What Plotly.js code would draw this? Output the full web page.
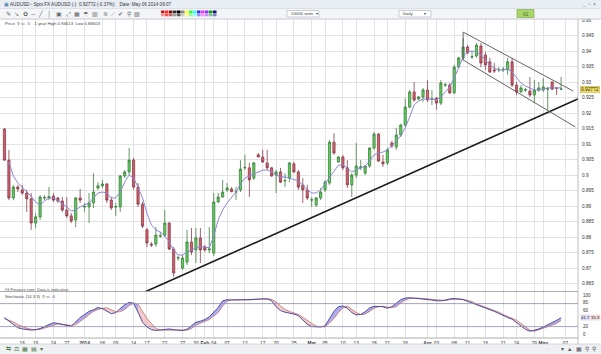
<!DOCTYPE html>
<html><head><meta charset="utf-8">
<script src="https://cdn.plot.ly/plotly-3.0.1.min.js"></script>
<style>html,body{margin:0;padding:0;background:#fff;}#chart{width:601px;height:354px;}</style>
</head><body><div id="chart"></div>
<script>
// ---------- data ----------
const dates = [
'2013-12-11','2013-12-12','2013-12-13','2013-12-15','2013-12-16','2013-12-17','2013-12-18','2013-12-19','2013-12-20','2013-12-22',
'2013-12-23','2013-12-24','2013-12-25','2013-12-26','2013-12-27','2013-12-29','2013-12-30','2013-12-31','2014-01-01','2014-01-02',
'2014-01-03','2014-01-05','2014-01-06','2014-01-07','2014-01-08','2014-01-09','2014-01-10','2014-01-12','2014-01-13','2014-01-14',
'2014-01-15','2014-01-16','2014-01-17','2014-01-19','2014-01-20','2014-01-21','2014-01-22','2014-01-23','2014-01-24','2014-01-26',
'2014-01-27','2014-01-28','2014-01-29','2014-01-30','2014-01-31','2014-02-02','2014-02-03','2014-02-04','2014-02-05','2014-02-06',
'2014-02-07','2014-02-09','2014-02-10','2014-02-11','2014-02-12','2014-02-13','2014-02-14','2014-02-16','2014-02-17','2014-02-18',
'2014-02-19','2014-02-20','2014-02-21','2014-02-23','2014-02-24','2014-02-25','2014-02-26','2014-02-27','2014-02-28','2014-03-02',
'2014-03-03','2014-03-04','2014-03-05','2014-03-06','2014-03-07','2014-03-09','2014-03-10','2014-03-11','2014-03-12','2014-03-13',
'2014-03-14','2014-03-16','2014-03-17','2014-03-18','2014-03-19','2014-03-20','2014-03-21','2014-03-23','2014-03-24','2014-03-25',
'2014-03-26','2014-03-27','2014-03-28','2014-03-30','2014-03-31','2014-04-01','2014-04-02','2014-04-03','2014-04-04','2014-04-06',
'2014-04-07','2014-04-08','2014-04-09','2014-04-10','2014-04-11','2014-04-13','2014-04-14','2014-04-15','2014-04-16','2014-04-17',
'2014-04-18','2014-04-20','2014-04-21','2014-04-22','2014-04-23','2014-04-24','2014-04-25','2014-04-27','2014-04-28','2014-04-29',
'2014-04-30','2014-05-01','2014-05-02','2014-05-04','2014-05-05','2014-05-06'];

const openP = [
.9148,.9048,.8926,.8961,.8952,.8942,.8923,.8845,.8865,.8926,
.8926,.8932,.8926,.8916,.8887,.8868,.8855,.8926,.8897,.8897,
.8910,.8958,.8965,.8971,.8919,.8897,.8897,.8997,.9010,.9048,
.8961,.8906,.8823,.8777,.8777,.8803,.8806,.8845,.8761,.8732,
.8700,.8719,.8784,.8758,.8797,.8768,.8758,.8748,.8913,.8929,
.8952,.8955,.8945,.8952,.9023,.9023,.8990,.9065,.9058,.9039,
.9023,.9000,.9010,.8981,.8990,.9036,.9010,.8968,.8952,.8919,
.8903,.8926,.8952,.8974,.9106,.9042,.9058,.9023,.8968,.9000,
.9023,.9006,.9029,.9087,.9132,.9042,.9039,.9103,.9090,.9129,
.9161,.9219,.9268,.9245,.9252,.9274,.9245,.9248,.9232,.9290,
.9290,.9265,.9348,.9378,.9413,.9381,.9384,.9416,.9387,.9365,
.9339,.9339,.9339,.9339,.9365,.9290,.9268,.9274,.9271,.9258,
.9274,.9274,.9277,.9300,.9281,.9277];

const highP = [
.9152,.9081,.8968,.8968,.8968,.8952,.8942,.8877,.8935,.8935,
.8961,.8942,.8929,.8929,.8929,.8877,.8929,.8955,.8910,.8942,
.9006,.8977,.8984,.8974,.8929,.8910,.9000,.9016,.9087,.9055,
.8974,.8913,.8829,.8784,.8832,.8816,.8887,.8848,.8768,.8739,
.8742,.8823,.8829,.8829,.8829,.8774,.8832,.8942,.8942,.8984,
.8974,.8961,.8961,.9048,.9065,.9039,.9042,.9071,.9081,.9081,
.9026,.9016,.9023,.9006,.9042,.9042,.9016,.8990,.8968,.8929,
.8929,.8958,.8984,.9113,.9135,.9061,.9065,.9048,.9006,.9103,
.9048,.9032,.9090,.9139,.9135,.9065,.9087,.9110,.9152,.9165,
.9248,.9274,.9300,.9255,.9281,.9306,.9274,.9252,.9306,.9297,
.9297,.9355,.9381,.9442,.9419,.9397,.9426,.9426,.9397,.9378,
.9361,.9348,.9348,.9378,.9378,.9300,.9290,.9281,.9316,.9306,
.9300,.9313,.9284,.9303,.9284,.9316];

const lowP = [
.9045,.8919,.8919,.8945,.8935,.8881,.8823,.8829,.8855,.8919,
.8919,.8913,.8910,.8881,.8861,.8845,.8832,.8910,.8881,.8845,
.8894,.8952,.8958,.8910,.8887,.8868,.8881,.8990,.9000,.8952,
.8897,.8829,.8768,.8768,.8768,.8797,.8800,.8758,.8671,.8723,
.8694,.8710,.8742,.8716,.8716,.8752,.8748,.8739,.8910,.8926,
.8945,.8945,.8919,.8945,.9016,.8929,.8984,.9058,.9039,.9016,
.8994,.8942,.8974,.8961,.8977,.9006,.8952,.8910,.8919,.8897,
.8897,.8919,.8945,.8968,.9065,.9039,.9016,.8958,.8929,.8990,
.9016,.9000,.9023,.9081,.9042,.9026,.9032,.9087,.9081,.9123,
.9155,.9216,.9236,.9242,.9236,.9236,.9226,.9210,.9226,.9284,
.9261,.9261,.9345,.9371,.9390,.9374,.9378,.9348,.9339,.9329,
.9329,.9332,.9332,.9323,.9284,.9258,.9265,.9268,.9252,.9232,
.9268,.9268,.9210,.9274,.9258,.9274];

const closeP = [
.9048,.8926,.8961,.8955,.8942,.8923,.8845,.8865,.8929,.8927,
.8930,.8919,.8916,.8887,.8868,.8852,.8926,.8919,.8898,.8910,
.8945,.8965,.8971,.8919,.8894,.8898,.8997,.9010,.9048,.8961,
.8906,.8835,.8781,.8774,.8806,.8804,.8845,.8761,.8684,.8733,
.8732,.8784,.8752,.8797,.8758,.8758,.8761,.8913,.8929,.8945,
.8958,.8946,.8946,.9019,.9024,.8984,.9039,.9058,.9042,.9023,
.8997,.9010,.8977,.8982,.9039,.9010,.8961,.8952,.8926,.8920,
.8926,.8945,.8977,.9106,.9071,.9058,.9023,.8968,.9000,.9029,
.9026,.9029,.9087,.9132,.9045,.9036,.9081,.9094,.9129,.9161,
.9219,.9268,.9242,.9252,.9274,.9242,.9246,.9232,.9297,.9291,
.9265,.9348,.9378,.9413,.9394,.9382,.9419,.9361,.9355,.9332,
.9336,.9340,.9341,.9365,.9290,.9268,.9281,.9275,.9258,.9274,
.9281,.9284,.9278,.9277,.9280,.92772];

// moving average line (from the 2nd candle on)
const maLine = [
.9042,.8997,.8974,.8961,.8948,.8932,.8913,.8903,.8916,.8926,
.8926,.8919,.8906,.8897,.8884,.8887,.8897,.8903,.8910,.8926,
.8942,.8945,.8942,.8926,.8926,.8945,.8977,.9000,.8990,.8961,
.8926,.8877,.8839,.8823,.8816,.8803,.8784,.8758,.8742,.8742,
.8752,.8758,.8765,.8768,.8768,.8765,.8803,.8855,.8887,.8910,
.8929,.8945,.8971,.8990,.8997,.9003,.9010,.9016,.9016,.9010,
.9000,.8994,.8994,.8990,.8987,.8981,.8968,.8952,.8942,.8942,
.8952,.8971,.8994,.9013,.9032,.9032,.9023,.9010,.9016,.9023,
.9029,.9045,.9065,.9071,.9074,.9081,.9094,.9110,.9126,.9152,
.9187,.9226,.9239,.9245,.9245,.9245,.9242,.9252,.9268,.9284,
.9313,.9348,.9381,.9397,.9400,.9397,.9387,.9371,.9355,.9345,
.9339,.9339,.9342,.9332,.9316,.9297,.9287,.9281,.9274,.9274,
.9277,.9281,.9281,.9281,.9281];

// stochastic (14,3,3) lines
const stochK = [
42,33,26,16,13,11,10,11,14,19,
25,29,27,24,22,20,32,42,50,58,
62,68,65,59,52,55,66,75,81,79,
56,30,18,11,9,10,11,13,11,10,
9,12,22,30,33,37,44,55,68,85,
88,87,87,87,87,88,89,90,90,90,
85,70,60,56,54,51,47,35,25,19,
18,18,21,38,58,70,72,66,55,49,
50,57,67,71,71,70,66,70,79,88,
92,93,92,91,89,88,87,85,85,87,
90,91,90,88,84,80,75,71,67,63,
58,53,47,42,38,30,20,12,7,10,
13,18,23,28,35,41.7];
const stochD = [
39,35,31,24,19,15,12,11,12,15,
19,22,26,25,24,22,24,33,41,50,
58,63,66,67,61,57,57,63,73,79,
76,58,40,27,14,10,10,11,11,11,
10,10,14,23,28,32,37,46,55,72,
84,88,88,87,87,87,88,89,90,90,
89,82,72,63,58,54,50,43,34,27,
20,19,18,28,40,55,67,71,63,55,
50,51,58,66,70,71,69,68,70,80,
87,91,92,92,91,90,89,87,86,86,
88,89,90,89,86,83,77,73,70,65,
61,56,50,45,41,35,27,19,10,7,
11,14,18,22,27,35];

// drawn lines (support trendline and falling channel)
const trendX = ['2014-01-16 12:00','2014-05-11'];
const trendY = [0.86226, 0.9253];
const chanUpperX = ['2014-04-10','2014-05-08 17:00'];
const chanUpperY = [0.9461, 0.9271];
const chanLowerX = ['2014-04-10','2014-05-09 05:00'];
const chanLowerY = [0.9371, 0.9155];
const chanEdgeX = ['2014-04-10','2014-04-10'];
const chanEdgeY = [0.9461, 0.9371];

// axis ticks
const tickDates = ['2013-12-16','2013-12-19','2013-12-24','2013-12-27','2014-01-01','2014-01-06','2014-01-09','2014-01-14','2014-01-17','2014-01-22','2014-01-27','2014-01-30','2014-02-02','2014-02-04','2014-02-07','2014-02-12','2014-02-17','2014-02-20','2014-02-25','2014-03-02','2014-03-05','2014-03-10','2014-03-13','2014-03-18','2014-03-21','2014-03-26','2014-04-01','2014-04-03','2014-04-08','2014-04-11','2014-04-16','2014-04-21','2014-04-24','2014-04-29','2014-05-01','2014-05-07'];
const tickText = ['16','19','24','27','<b>2014</b>','06','09','14','17','22','27','30','<b>Feb</b>','04','07','12','17','20','25','<b>Mar</b>','05','10','13','18','21','26','<b>Apr</b>','03','08','11','16','21','24','29','<b>May</b>','07'];
const priceTicks = [0.865,0.87,0.875,0.88,0.885,0.89,0.895,0.9,0.905,0.91,0.915,0.92,0.925,0.93,0.935,0.94,0.945,0.95];
const priceTickText = ['0.865','0.87','0.875','0.88','0.885','0.89','0.895','0.9','0.905','0.91','0.915','0.92','0.925','0.93','0.935','0.94','0.945','0.95'];
const stochTicks = [0,20,60,80,100];
const lastPrice = 0.92772;

[openP,highP,lowP,closeP,stochK,stochD].forEach((a,i)=>{ if(a.length!==dates.length) throw new Error('len '+i+' '+a.length); });
if (maLine.length!==dates.length-1) throw new Error('ma len '+maLine.length);

// ---------- geometry helpers (pixels -> paper) ----------
const W=601, H=354;
const px = x => x/W, py = y => 1 - y/H;
const priceAt = y => 0.95645 - y/3100;      // main panel scale
const stochAt = y => (334 - y)/0.39;          // lower panel scale
const FONT = 'Liberation Sans, Arial, sans-serif';
const GRID = '#e3e3e3';

// ---------- traces ----------
const traces = [];
traces.push({type:'candlestick', x:dates, open:openP, high:highP, low:lowP, close:closeP,
  xaxis:'x', yaxis:'y', whiskerwidth:0,
  increasing:{line:{color:'#3e7f3e', width:0.8}, fillcolor:'#5fd05f'},
  decreasing:{line:{color:'#8a3c46', width:0.8}, fillcolor:'#d0606e'},
  hoverinfo:'skip'});
traces.push({type:'scatter', mode:'lines', x:dates.slice(1), y:maLine, yaxis:'y',
  line:{color:'#8c86d8', width:1}, hoverinfo:'skip'});
traces.push({type:'scatter', mode:'lines', x:trendX, y:trendY, yaxis:'y', line:{color:'#1a1a1a', width:1.6}, hoverinfo:'skip'});
[[chanUpperX,chanUpperY],[chanLowerX,chanLowerY],[chanEdgeX,chanEdgeY]].forEach(([xx,yy])=>{
  traces.push({type:'scatter', mode:'lines', x:xx, y:yy, yaxis:'y', line:{color:'#555', width:0.9}, hoverinfo:'skip'});
});

// stochastic fills between %K and %D (blue when %K above, pink when below)
(function(){
  const n = stochK.length; let i = 0;
  while (i < n-1) {
    const up = stochK[i] >= stochD[i];
    let j = i;
    while (j < n-1 && ((stochK[j+1] >= stochD[j+1]) === up)) j++;
    const e = Math.min(j+1, n-1);
    const xs = dates.slice(i, e+1);
    traces.push({type:'scatter', mode:'lines', x: xs.concat(xs.slice().reverse()),
      y: stochK.slice(i,e+1).concat(stochD.slice(i,e+1).reverse()),
      yaxis:'y2', fill:'toself', fillcolor: up ? 'rgba(110,110,225,0.55)' : 'rgba(232,160,160,0.55)',
      line:{width:0}, hoverinfo:'skip'});
    i = j+1;
  }
})();
traces.push({type:'scatter', mode:'lines', x:dates, y:stochD, yaxis:'y2', line:{color:'#c87878', width:0.9}, hoverinfo:'skip'});
traces.push({type:'scatter', mode:'lines', x:dates, y:stochK, yaxis:'y2', line:{color:'#3c3c9c', width:0.9}, hoverinfo:'skip'});

// ---------- decorations ----------
const shapes = [];
const rect = (x0,y0,x1,y1,fill,line) => shapes.push({type:'rect', xref:'paper', yref:'paper', x0:px(x0), x1:px(x1), y0:py(y1), y1:py(y0), fillcolor:fill, line:{color:line||fill, width:line?0.6:0}, layer:'above'});
const hline = (x0,x1,y,color,w) => shapes.push({type:'line', xref:'paper', yref:'paper', x0:px(x0), x1:px(x1), y0:py(y), y1:py(y), line:{color:color, width:w||1}, layer:'above'});
const vline = (x,y0,y1,color,w) => shapes.push({type:'line', xref:'paper', yref:'paper', x0:px(x), x1:px(x), y0:py(y0), y1:py(y1), line:{color:color, width:w||1}, layer:'above'});

// header
rect(0,0,601,8.5,'#e9eef4');
rect(0,8.5,601,19,'#f3f5f7');
hline(0,601,8.5,'#c9d2dc',0.6);
hline(0,601,19,'#b8bec6',0.8);
// colour palette in the toolbar
const palTop = ['#c01818','#ff2a2a','#7a1010','#303030','#000000','#8a8a8a','#ffff30','#30ff30','#30ffff','#3030ff','#ff30ff','#9030ff','#10a010','#101080'];
const palBot = ['#ff8a8a','#ff5050','#c06060','#a0a0a0','#606060','#c8c8c8','#ffff90','#90ff90','#90ffff','#9090ff','#ff90ff','#c090ff','#80c080','#8080c0'];
palTop.forEach((c,i)=>rect(161+i*4,10.5,164.5+i*4,13.3,c));
palBot.forEach((c,i)=>rect(161+i*4,13.5,164.5+i*4,16.3,c));
// dropdowns and logo
rect(287,10.5,319,17,'#ffffff','#a8b0b8');
rect(399,10.5,431,17,'#ffffff','#a8b0b8');
rect(517,9.5,534,17.5,'#a9d46a','#7aa040');
// right axis column separator & panel separators
vline(578,19,344,'#b0b0b0',0.8);
hline(0,578,291.5,'#9a9a9a',0.8);
hline(0,578,303.6,'#8d8dae',0.8);
hline(0,578,326.6,'#8d8dae',0.8);
hline(0,578,338,'#9a9a9a',0.8);
// bottom bar
rect(0,344,601,354,'#eef0f2');
hline(0,601,344,'#c0c4c8',0.6);

const ann = [];
const txt = (x,y,t,size,color,anchor,extra) => ann.push(Object.assign({xref:'paper', yref:'paper', x:px(x), y:py(y), text:t, showarrow:false, xanchor:anchor||'left', yanchor:'middle', font:{family:FONT, size:size||5, color:color||'#333'}}, extra||{}));

txt(8,4.2,'AUDUSD - Spot FX AUDUSD (-)  0.92772 (-0.37%)    Date: May 06 2014 09:07',4.6,'#333');
txt(2,4.2,'▣',4.6,'#4a7ab0');
txt(598,4.2,'_  ▫  ×',5,'#777','right');
txt(4,14,'✎  ↘  ✿  ─  ╱   │   ▣  ⤢  ▦  ☂  ▥   ≋  ⟋  ✔  ⚲  ▨',6,'#666');
txt(289,13.8,'10000 units  ▾',4.3,'#333');
txt(401,13.8,'Daily          ▾',4.3,'#333');
txt(525.5,13.5,'IG',5,'#2f5f10','center');
txt(3,23,'Price  ⚲ ▭ ⊙    1 year High 0.94613  Low 0.86603',4.3,'#444');
txt(3,289,'IG Finance.com: Data is indicative',4.2,'#555');
txt(3,296,'Stochastic (14 3 3)  ⚲ ▭ ⊙',4.2,'#444');
txt(4,349,'⇆  ⚖  ▦  ▤  ▾',5.5,'#4a7a4a');
txt(598,349,'▾  ▲  ▦  ⚲  ⚲',5.5,'#556','right');
txt(545,348.5,'·',5,'#777');
// highlighted current values on the axes
ann.push({xref:'paper', yref:'y', x:px(579.5), y:lastPrice, text:'0.92772', showarrow:false, xanchor:'left', yanchor:'middle',
  font:{family:FONT,size:4.8,color:'#222'}, bgcolor:'#f2df6a', bordercolor:'#c9b03a', borderwidth:0.5, borderpad:0.5});
ann.push({xref:'paper', yref:'y2', x:px(579.5), y:stochK[stochK.length-1], text:'41.7', showarrow:false, xanchor:'left', yanchor:'middle',
  font:{family:FONT,size:4.3,color:'#222'}, bgcolor:'#dcdcf4', borderpad:0});
ann.push({xref:'paper', yref:'y2', x:px(589.5), y:stochK[stochK.length-1], text:'35.9', showarrow:false, xanchor:'left', yanchor:'middle',
  font:{family:FONT,size:4.3,color:'#222'}, bgcolor:'#f4dcdc', borderpad:0});

const layout = {
  width:W, height:H, margin:{l:0,r:0,t:0,b:0}, paper_bgcolor:'#ffffff', plot_bgcolor:'#ffffff',
  showlegend:false, font:{family:FONT, size:5, color:'#333'},
  xaxis:{domain:[0, px(578)], type:'date', anchor:'y2',
    range:['2013-12-10', '2014-05-09 19:12'],
    rangebreaks:[{pattern:'day of week', bounds:[6,0]}],
    rangeslider:{visible:false},
    tickmode:'array', tickvals:tickDates, ticktext:tickText, tickangle:0,
    tickfont:{family:FONT, size:4.8, color:'#333'}, ticks:'', ticklabelstandoff:1,
    showgrid:true, gridcolor:GRID, gridwidth:1, zeroline:false, showline:false, fixedrange:true},
  yaxis:{domain:[py(291.5), py(19)], range:[priceAt(291.5), priceAt(19)], side:'right', anchor:'x',
    tickmode:'array', tickvals:priceTicks, ticktext:priceTickText,
    tickfont:{family:FONT, size:4.8, color:'#333'}, ticks:'outside', ticklen:2, tickcolor:'rgba(0,0,0,0)',
    showgrid:true, gridcolor:GRID, zeroline:false, showline:false, fixedrange:true},
  yaxis2:{domain:[py(338), py(291.5)], range:[stochAt(338), stochAt(291.5)], side:'right', anchor:'x',
    tickmode:'array', tickvals:stochTicks, ticktext:['0','20','60','80','100'],
    tickfont:{family:FONT, size:4.6, color:'#333'}, ticks:'outside', ticklen:3, tickcolor:'rgba(0,0,0,0)',
    showgrid:false, zeroline:false, showline:false, fixedrange:true},
  shapes:shapes, annotations:ann
};

Plotly.newPlot('chart', traces, layout, {staticPlot:true, displayModeBar:false});
</script>
</body></html>
